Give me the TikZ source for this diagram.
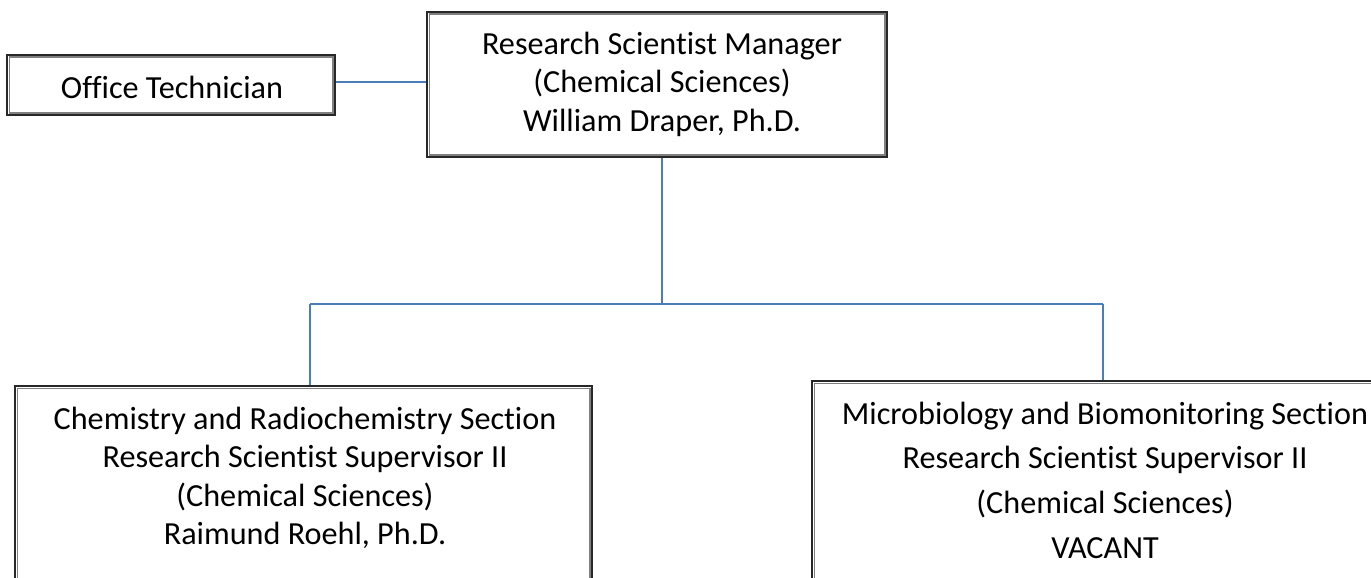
\documentclass[tikz,border=0pt]{standalone}
\usepackage{fontspec}
\setmainfont{Carlito}[Ligatures=NoCommon]
\definecolor{connblue}{RGB}{74,126,187}
\definecolor{outerln}{RGB}{40,40,40}
\definecolor{innerln}{RGB}{128,128,128}
\tikzset{
  box/.style={draw=outerln, line width=1.3pt, fill=white, inner sep=0pt},
  innerbox/.style={draw=innerln, line width=1.3pt},
  conn/.style={draw=connblue, line width=2pt},
  txt/.style={align=center, inner sep=0pt, font=\fontsize{32.2}{38.5}\selectfont},
  txtwide/.style={align=center, inner sep=0pt, font=\fontsize{32.2}{44.7}\selectfont}
}
\begin{document}
\begin{tikzpicture}[x=1pt,y=-1pt]
\useasboundingbox (0,0) rectangle (1371,578);
\clip (0,0) rectangle (1371,578);
\fill[white] (0,0) rectangle (1371,578);

% boxes
\node[box, minimum width=328pt, minimum height=60pt] (off) at (171,85) {};
\node[box, minimum width=460pt, minimum height=145pt] (mgr) at (657,84.5) {};
\node[box, minimum width=577pt, minimum height=240pt] (chem) at (303.5,506) {};
\node[box, minimum width=590pt, minimum height=240pt] (micro) at (1107,501) {};

\foreach \b in {off,mgr,chem,micro}{
  \draw[innerbox] ([shift={(2.8,2.8)}]\b.north west) rectangle ([shift={(-2.8,-2.8)}]\b.south east);
}

% texts
\node[txt] (offT) at (172,87) {Office Technician};
\node[txt] (mgrT) at (662,84) {Research Scientist Manager\\(Chemical Sciences)\\William Draper, Ph.D.};
\node[txt] (chemT) at (305,478) {Chemistry and Radiochemistry Section\\Research Scientist Supervisor II\\(Chemical Sciences)\\Raimund Roehl, Ph.D.};
\node[txtwide] (microT) at (1105,480) {Microbiology and Biomonitoring Section\\Research Scientist Supervisor II\\(Chemical Sciences)\\VACANT};

% connectors
\coordinate (bus) at (662,304);
\coordinate (busL) at (310,304);
\coordinate (busR) at (1103,304);
\draw[conn] (off.east |- 0,82) -- (mgr.west |- 0,82);
\draw[conn] (bus |- mgr.south) -- (bus);
\draw[conn] (busL) -- (busR);
\draw[conn] (busL) -- (busL |- chem.north);
\draw[conn] (busR) -- (busR |- micro.north);
\end{tikzpicture}
\end{document}
